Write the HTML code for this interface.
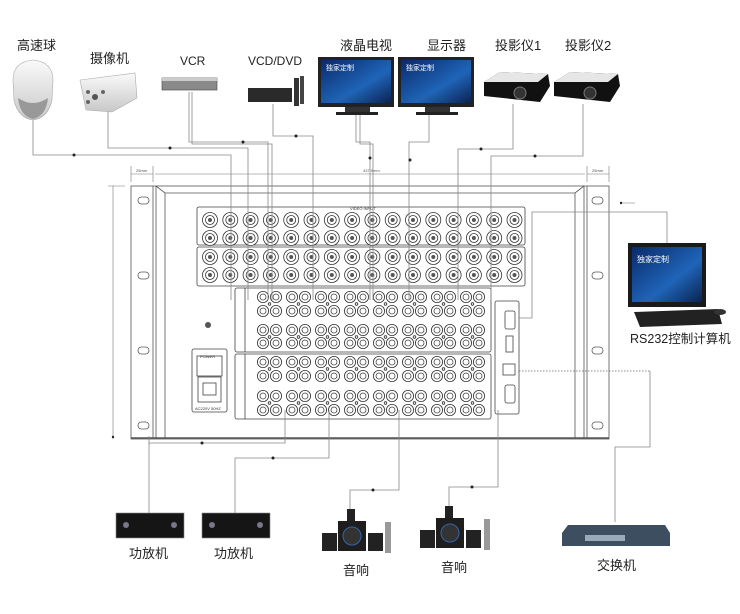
<!DOCTYPE html>
<html><head><meta charset="utf-8"><style>
html,body{margin:0;padding:0;background:#fff;width:740px;height:614px;overflow:hidden}
svg{display:block}
.lb{font-family:"Liberation Sans","Noto Sans CJK SC",sans-serif;font-size:13px;fill:#222}
</style></head><body>
<svg id="s" width="740" height="614" viewBox="0 0 740 614" xmlns="http://www.w3.org/2000/svg">
<defs>
<linearGradient id="scr" x1="0" y1="0" x2="1" y2="1"><stop offset="0" stop-color="#0a2a6a"/><stop offset="0.6" stop-color="#1f64b8"/><stop offset="1" stop-color="#0b2350"/></linearGradient>
<linearGradient id="wh" x1="0" y1="0" x2="0" y2="1"><stop offset="0" stop-color="#fafafa"/><stop offset="1" stop-color="#c8c8c8"/></linearGradient>
</defs>
<!-- rack -->
<g fill="none" stroke="#555" stroke-width="0.8">
<rect x="131" y="186" width="478" height="253" fill="#fff"/>
<line x1="153" y1="186" x2="153" y2="439"/><line x1="156" y1="186" x2="156" y2="439"/>
<line x1="587" y1="186" x2="587" y2="439"/><line x1="584" y1="186" x2="584" y2="439"/>
<path d="M156 186 L165 193 L575 193 L584 186"/>
<line x1="165" y1="193" x2="165" y2="439"/><line x1="575" y1="193" x2="575" y2="439"/>
<line x1="131" y1="438" x2="609" y2="438" stroke-width="1.5"/>
</g>
<g fill="none" stroke="#555" stroke-width="0.8">
<rect x="138" y="197" width="11" height="7" rx="3.5"/><rect x="138" y="272" width="11" height="7" rx="3.5"/><rect x="138" y="347" width="11" height="7" rx="3.5"/><rect x="138" y="422" width="11" height="7" rx="3.5"/>
<rect x="592" y="197" width="11" height="7" rx="3.5"/><rect x="592" y="272" width="11" height="7" rx="3.5"/><rect x="592" y="347" width="11" height="7" rx="3.5"/><rect x="592" y="422" width="11" height="7" rx="3.5"/>
</g>
<!-- dimension lines -->
<g stroke="#777" stroke-width="0.6" fill="none">
<line x1="131" y1="166" x2="131" y2="182"/><line x1="153" y1="166" x2="153" y2="182"/>
<line x1="587" y1="166" x2="587" y2="182"/><line x1="609" y1="166" x2="609" y2="182"/>
<line x1="131" y1="174" x2="153" y2="174"/><line x1="155" y1="174" x2="585" y2="174"/><line x1="587" y1="174" x2="609" y2="174"/>
<line x1="113" y1="186" x2="113" y2="439"/><line x1="108" y1="186" x2="125" y2="186"/>
</g>
<text x="136" y="172" font-size="4" fill="#555" font-family="Liberation Sans">25mm</text>
<text x="363" y="172" font-size="4" fill="#555" font-family="Liberation Sans">437.5mm</text>
<text x="592" y="172" font-size="4" fill="#555" font-family="Liberation Sans">25mm</text>
<!-- video block -->
<g fill="none" stroke="#444" stroke-width="0.8">
<rect x="197" y="207" width="328" height="38" rx="2"/><rect x="197" y="247" width="328" height="39" rx="2"/>
<rect x="235" y="288" width="256" height="64" rx="2"/><rect x="235" y="354" width="256" height="65" rx="2"/>
<line x1="245" y1="288" x2="245" y2="352"/><line x1="245" y1="354" x2="245" y2="419"/>
<rect x="495" y="301" width="24" height="113" rx="2"/>
<rect x="192" y="349" width="35" height="63" rx="2"/>
<rect x="197" y="356" width="25" height="20"/><rect x="198" y="377" width="23" height="25"/><rect x="203" y="383" width="13" height="12"/>
<rect x="505" y="311" width="10" height="18" rx="2"/><rect x="506" y="336" width="7" height="16"/><rect x="503" y="364" width="12" height="11"/><rect x="505" y="385" width="10" height="18" rx="2"/>
</g>
<text x="350" y="210" font-size="4" fill="#333" font-family="Liberation Sans">VIDEO INPUT</text>
<text x="200" y="358" font-size="4" fill="#333" font-family="Liberation Sans">POWER</text>
<text x="195" y="410" font-size="4" fill="#333" font-family="Liberation Sans">AC220V 50HZ</text>
<circle cx="208" cy="325" r="3" fill="#555"/>
<g id="jacks"></g>
<!-- connectors -->
<g fill="none" stroke="#888" stroke-width="0.8">
<path d="M33 120 V155 H231 V300"/>
<path d="M108 112 V148 H248 V300"/>
<path d="M189 92 V142 H268 V300"/>
<path d="M192 92 V144 H272 V300"/>
<path d="M273 104 V136 H313 V300"/>
<path d="M356 114 V142 H370 V300"/>
<path d="M360 114 V144 H373 V300"/>
<path d="M429 114 V142 H409 V300"/>
<path d="M513 104 V149 H458 V300"/>
<path d="M583 104 V156 H491 V300"/>
<path d="M285 410 V443 H149 V513"/>
<path d="M329 410 V458 H235 V513"/>
<path d="M399 410 V490 H350 V510"/>
<path d="M498 410 V487 H449 V508"/>
<path d="M519 318 H532 V212 H667 V245"/>
<path d="M650 371 V447 H615 V522"/>
<path d="M149 445 V436"/>
</g>
<line x1="519" y1="371" x2="650" y2="371" stroke="#666" stroke-width="0.8" stroke-dasharray="1.5,1.5"/>
<line x1="622" y1="203" x2="635" y2="203" stroke="#888" stroke-width="0.6"/>
<g fill="#222">
<circle cx="74" cy="155" r="1.5"/><circle cx="170" cy="148" r="1.5"/><circle cx="243" cy="142" r="1.5"/><circle cx="296" cy="136" r="1.5"/>
<circle cx="370" cy="158" r="1.5"/><circle cx="410" cy="160" r="1.5"/><circle cx="481" cy="149" r="1.5"/><circle cx="535" cy="156" r="1.5"/>
<circle cx="202" cy="443" r="1.5"/><circle cx="273" cy="458" r="1.5"/><circle cx="373" cy="490" r="1.5"/><circle cx="472" cy="487" r="1.5"/><circle cx="621" cy="203" r="1.2"/><circle cx="113" cy="437" r="1.2"/>
</g>
<!-- top devices -->
<path d="M13 80 Q13 62 33 60 Q53 62 53 80 L52 100 Q48 118 33 120 Q18 118 14 100 Z" fill="url(#wh)" stroke="#aaa" stroke-width="0.6"/>
<path d="M18 98 Q33 108 48 98 Q46 116 33 119 Q20 116 18 98Z" fill="#999"/>
<path d="M80 80 L135 73 L137 98 L112 112 L86 110 Z" fill="url(#wh)" stroke="#aaa" stroke-width="0.6"/>
<circle cx="95" cy="97" r="3" fill="#555"/><circle cx="88" cy="92" r="2" fill="#666"/><circle cx="88" cy="102" r="2" fill="#666"/><circle cx="103" cy="92" r="2" fill="#666"/>
<rect x="162" y="78" width="55" height="12" fill="#8a8a8a" stroke="#444" stroke-width="0.6"/><rect x="162" y="78" width="55" height="3" fill="#ccc"/>
<rect x="248" y="88" width="44" height="14" fill="#2a2a2a"/><rect x="294" y="78" width="5" height="28" fill="#333"/><rect x="300" y="76" width="4" height="28" fill="#444"/>
<rect x="318" y="57" width="76" height="50" fill="#222"/><rect x="321" y="60" width="70" height="43" fill="url(#scr)"/><rect x="345" y="107" width="25" height="6" fill="#333"/><rect x="336" y="112" width="42" height="3" fill="#222"/>
<rect x="398" y="57" width="76" height="50" fill="#222"/><rect x="401" y="60" width="70" height="43" fill="url(#scr)"/><rect x="425" y="107" width="25" height="6" fill="#333"/><rect x="416" y="112" width="42" height="3" fill="#222"/>
<text x="326" y="70" font-size="7" fill="#fff" font-family="Noto Sans CJK SC">独家定制</text><text x="406" y="70" font-size="7" fill="#fff" font-family="Noto Sans CJK SC">独家定制</text>
<path d="M484 82 L500 72 L548 74 L550 86 L540 102 L484 96Z" fill="#111"/><path d="M484 82 L500 72 L548 74 L538 82Z" fill="#e6e6e6"/><circle cx="520" cy="93" r="6" fill="#333" stroke="#777"/>
<path d="M554 82 L570 72 L618 74 L620 86 L610 102 L554 96Z" fill="#111"/><path d="M554 82 L570 72 L618 74 L608 82Z" fill="#e6e6e6"/><circle cx="590" cy="93" r="6" fill="#333" stroke="#777"/>
<!-- computer -->
<rect x="628" y="243" width="78" height="64" fill="#1a1a1a"/><rect x="632" y="247" width="70" height="55" fill="url(#scr)"/>
<text x="637" y="262" font-size="8" fill="#fff" font-family="Noto Sans CJK SC">独家定制</text>
<path d="M634 312 L718 309 L722 324 L640 327Z" fill="#222"/><ellipse cx="720" cy="312" rx="6" ry="3" fill="#333"/>
<!-- bottom devices -->
<rect x="116" y="513" width="68" height="25" fill="#151515" stroke="#888" stroke-width="0.6"/><rect x="202" y="513" width="68" height="25" fill="#151515" stroke="#888" stroke-width="0.6"/>
<circle cx="126" cy="525" r="3" fill="#778"/><circle cx="174" cy="525" r="3" fill="#778"/><circle cx="212" cy="525" r="3" fill="#778"/><circle cx="260" cy="525" r="3" fill="#778"/>
<rect x="347" y="509" width="8" height="12" fill="#222"/><rect x="338" y="521" width="28" height="30" fill="#1e1e1e"/><circle cx="352" cy="536" r="9" fill="#333" stroke="#36a"/>
<rect x="322" y="533" width="15" height="18" fill="#222"/><rect x="368" y="533" width="15" height="18" fill="#222"/><rect x="385" y="522" width="6" height="31" fill="#999"/>
<rect x="445" y="506" width="8" height="12" fill="#222"/><rect x="436" y="518" width="28" height="30" fill="#1e1e1e"/><circle cx="450" cy="533" r="9" fill="#333" stroke="#36a"/>
<rect x="420" y="530" width="15" height="18" fill="#222"/><rect x="466" y="530" width="15" height="18" fill="#222"/><rect x="484" y="519" width="6" height="31" fill="#999"/>
<path d="M568 525 L665 525 L670 533 L670 546 L562 546 L562 533Z" fill="#3c4e60"/><rect x="585" y="535" width="40" height="6" fill="#9ab"/>
<!-- labels -->
<g class="lb">
<text x="17" y="50">高速球</text><text x="90" y="63">摄像机</text><text x="180" y="65" font-size="12">VCR</text><text x="248" y="65" font-size="12">VCD/DVD</text>
<text x="340" y="50">液晶电视</text><text x="427" y="50">显示器</text><text x="495" y="50">投影仪1</text><text x="565" y="50">投影仪2</text>
<text x="630" y="343" font-size="12.5">RS232控制计算机</text>
<text x="129" y="558">功放机</text><text x="214" y="558">功放机</text><text x="343" y="575">音响</text><text x="441" y="572">音响</text><text x="597" y="570">交换机</text>
</g>
</svg>
<script>
var g=document.getElementById('jacks'),ns='http://www.w3.org/2000/svg',h='';
function c(x,y,r,f,s){return '<circle cx="'+x+'" cy="'+y+'" r="'+r+'" fill="'+f+'" stroke="'+s+'" stroke-width="0.8"/>';}
[220,238,257,275].forEach(function(y){for(var i=0;i<16;i++){var x=210+i*20.3;h+=c(x,y,7.5,'#fff','#333')+c(x,y,4.5,'none','#333')+c(x,y,2,'#555','none');}});
[297,311,330,343,362,376,396,410].forEach(function(y){for(var k=0;k<8;k++){for(var j=0;j<2;j++){var x=263+k*29+j*13;h+=c(x,y,5.6,'#fff','#333')+c(x,y,3,'none','#444');}}});
[304,337,369,403].forEach(function(y){for(var k=0;k<8;k++){h+=c(269.5+k*29,y,1.3,'#fff','#333');}});
g.innerHTML=h;
</script>
</body></html>
